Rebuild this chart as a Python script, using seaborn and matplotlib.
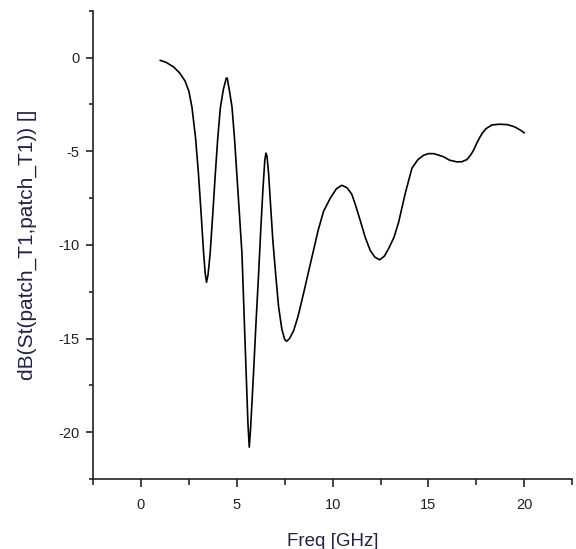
import numpy as np
import pandas as pd
import seaborn as sns
import matplotlib.pyplot as plt
from matplotlib.ticker import MultipleLocator

# values
freq = [1.0, 1.3, 1.7, 2.0, 2.3, 2.5, 2.66, 2.85, 3.0, 3.15, 3.27, 3.35, 3.42, 3.5,
        3.61, 3.75, 3.88, 4.0, 4.14, 4.3, 4.45, 4.5, 4.62, 4.75, 4.88, 5.0, 5.14,
        5.27, 5.38, 5.49, 5.58, 5.65, 5.72, 5.87, 6.0, 6.14, 6.25, 6.36, 6.46, 6.52,
        6.58, 6.66, 6.77, 6.88, 7.03, 7.18, 7.35, 7.5, 7.6, 7.75, 7.96, 8.2, 8.48,
        8.75, 9.0, 9.25, 9.53, 9.88, 10.2, 10.48, 10.75, 11.0, 11.2, 11.44, 11.7,
        11.96, 12.2, 12.45, 12.7, 12.92, 13.2, 13.44, 13.8, 14.14, 14.45, 14.74,
        15.0, 15.26, 15.5, 15.79, 16.1, 16.48, 16.75, 17.0, 17.2, 17.35, 17.55,
        17.79, 18.0, 18.3, 18.7, 19.09, 19.35, 19.53, 19.8, 20.0]
db = [-0.15, -0.25, -0.5, -0.8, -1.25, -1.8, -2.64, -4.3, -6.2, -8.5, -10.45, -11.5,
      -12.0, -11.6, -10.45, -8.3, -6.2, -4.4, -2.7, -1.7, -1.1, -1.1, -1.8, -2.64,
      -4.3, -6.2, -8.4, -10.47, -13.7, -16.9, -19.5, -20.8, -19.8, -16.9, -14.2,
      -11.5, -9.2, -7.1, -5.5, -5.1, -5.3, -6.2, -8.0, -9.75, -11.6, -13.3, -14.5,
      -15.05, -15.15, -15.0, -14.6, -13.8, -12.6, -11.4, -10.3, -9.2, -8.2, -7.5,
      -7.0, -6.82, -6.95, -7.3, -7.9, -8.7, -9.6, -10.3, -10.65, -10.8, -10.6,
      -10.2, -9.6, -8.8, -7.2, -5.9, -5.45, -5.22, -5.13, -5.13, -5.2, -5.3, -5.48,
      -5.57, -5.56, -5.45, -5.2, -4.95, -4.5, -4.06, -3.8, -3.6, -3.56, -3.58,
      -3.65, -3.72, -3.88, -4.02]

df = pd.DataFrame({"freq": freq, "db": db})

sns.set_style("ticks")
plt.rcParams["font.family"] = ["Liberation Sans", "DejaVu Sans"]
plt.rcParams["axes.unicode_minus"] = False

fig = plt.figure(figsize=(5.76, 5.49), dpi=100)
ax = fig.add_axes([0.1615, 0.1275, 0.832, 0.853])

sns.lineplot(data=df, x="freq", y="db", color="black", linewidth=1.2, ax=ax,
             sort=False)

ax.set_xlim(-2.5, 22.5)
ax.set_ylim(-22.5, 2.5)
ax.xaxis.set_major_locator(MultipleLocator(5))
ax.xaxis.set_minor_locator(MultipleLocator(2.5))
ax.yaxis.set_major_locator(MultipleLocator(5))
ax.yaxis.set_minor_locator(MultipleLocator(2.5))
ax.tick_params(axis="x", which="major", direction="out", length=6, width=1.2,
               labelsize=10.5, colors="#222222", pad=8)
ax.tick_params(axis="x", which="minor", direction="out", length=4, width=1.2)
ax.tick_params(axis="y", which="major", direction="out", length=5, width=1.2,
               labelsize=10.5, colors="#222222", pad=5)
ax.tick_params(axis="y", which="minor", direction="out", length=3, width=1.2)

sns.despine(ax=ax)
for s in ["left", "bottom"]:
    ax.spines[s].set_linewidth(1.2)
    ax.spines[s].set_color("#222222")

ax.set_xlabel("Freq [GHz]", fontsize=13.5, color="#222244", labelpad=15)
ax.set_ylabel("dB(St(patch_T1,patch_T1)) []", fontsize=15, color="#222244")
ax.yaxis.label.set_va("center")
ax.yaxis.set_label_coords(-0.136, 0.5)

fig.savefig("out.png", dpi=100)
